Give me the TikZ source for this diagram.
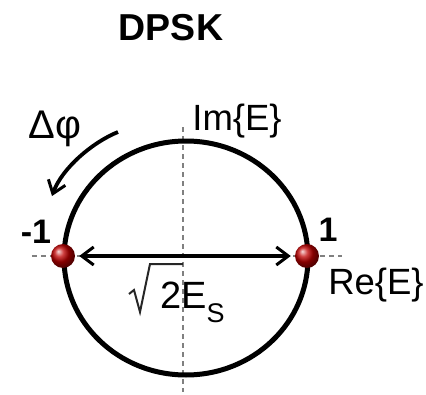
\documentclass[tikz,border=0pt]{standalone}
\usepackage{fontspec}
\setmainfont{Liberation Sans}
\usetikzlibrary{arrows.meta,positioning}
\tikzset{
axisline/.style={draw=black!50,line width=1.4pt,dash pattern=on 5pt off 4pt},
ring/.style={draw=black,line width=5pt},
symbol/.style={circle,minimum size=24pt,inner sep=0pt,ball color=red!75!black,draw=none},
distarrow/.style={{Straight Barb[length=12pt,width=18pt,line width=3pt]}-{Straight Barb[length=12pt,width=18pt,line width=3pt]},line width=3.8pt},
phasearrow/.style={-{Straight Barb[length=12pt,width=18pt,line width=3pt]},line width=3.8pt},
radical/.style={draw=black!85,line width=2pt,line join=miter},
lbl/.style={font=\fontsize{36.5}{40}\selectfont,inner sep=0pt},
bigl/.style={font=\fontsize{34}{38}\selectfont\bfseries,inner sep=0pt}
}

\begin{document}
\begin{tikzpicture}[x=1pt,y=1pt]
\useasboundingbox (-185,-138) rectangle (241,256);
\coordinate (o) at (0,0);
% axes
\draw[axisline] (-153,0) -- (157,0);
\draw[axisline] (-2,129) -- (-2,-136);
% unit circle
\draw[ring] (1,-2) ellipse [x radius=122,y radius=117];
% the two symbols
\node[symbol] (m) at (-122,0) {};
\node[symbol] (p) at (122,0) {};
\draw[distarrow,shorten <=4pt,shorten >=4pt] (m) -- (p);
% phase step
\coordinate (ps) at (-67,124);
\coordinate (pe) at (-133,60);
\draw[phasearrow] (ps) .. controls (-92,114) and (-123,88) .. (pe);
% labels
\node[bigl,font=\fontsize{37.5}{42}\selectfont\bfseries] (title) at (-14,228) {DPSK};
\node[lbl] (im) at (52,135) {Im\{E\}};
\node[lbl] (re) at (191,-29) {Re\{E\}};
\node[lbl,font=\fontsize{40}{44}\selectfont] (dphi) at (-130,127) {Δφ};
\node[bigl] (mone) at (-149,24) {-1};
\node[bigl] (pone) at (143,26) {1};
\node[lbl,font=\fontsize{38}{42}\selectfont,anchor=base west] (dist) at (-25,-52) {2E\raisebox{-14pt}{\fontsize{27}{30}\selectfont S}};
% root sign over the 2
\draw[radical] (dist.base west) ++(-31,14) -- ++(5,4) -- ++(6,-22) -- ++(10,48) -- ++(33,0);
\end{tikzpicture}
\end{document}
